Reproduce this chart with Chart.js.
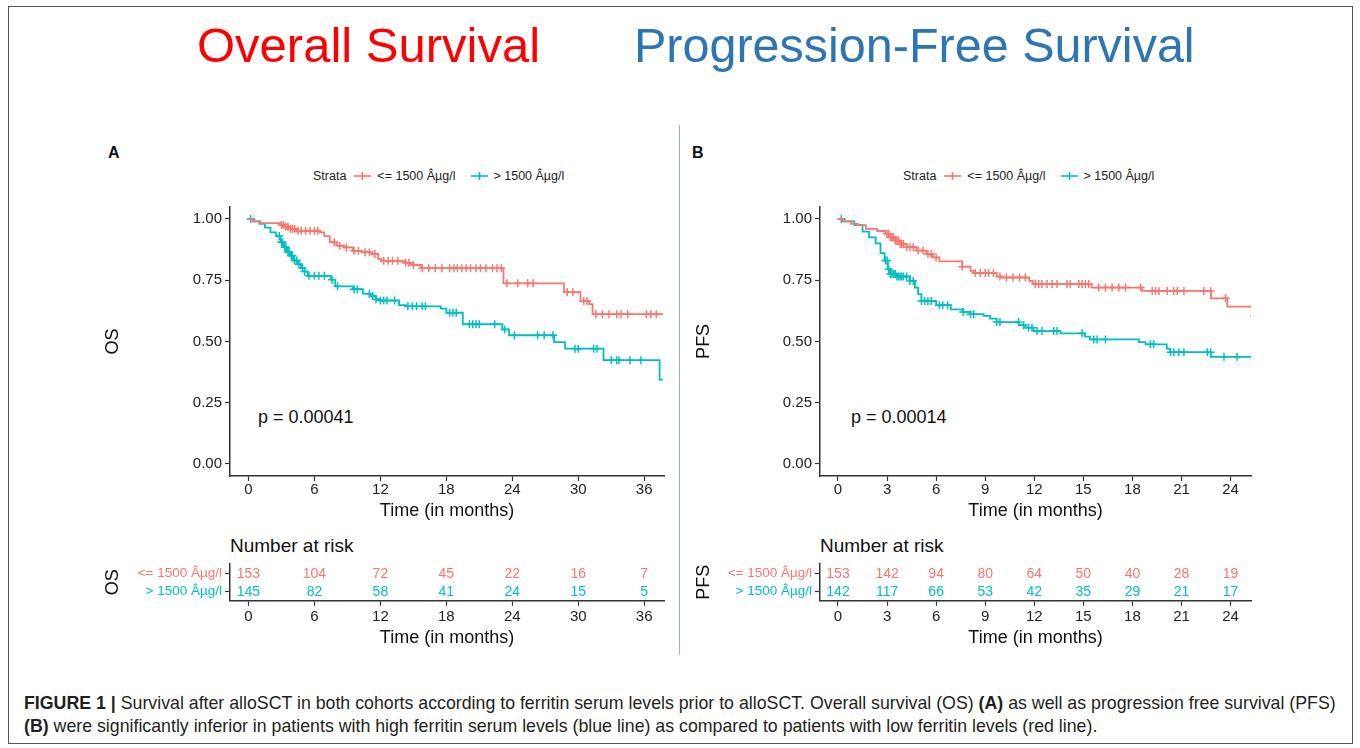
<!DOCTYPE html>
<html><head><meta charset="utf-8">
<script src="https://cdn.jsdelivr.net/npm/chart.js@4.4.1/dist/chart.umd.min.js"></script>
<style>
html,body{margin:0;padding:0;background:#fff;}
body{width:1360px;height:748px;position:relative;overflow:hidden;font-family:'Liberation Sans',Arial,sans-serif;color:#111;}
.t{position:absolute;white-space:nowrap;line-height:1;}
canvas{position:absolute;}
.leg{position:absolute;display:flex;align-items:center;height:14px;font-size:12.5px;color:#222;white-space:nowrap;}
.leg svg{display:block;}
</style></head><body>
<div style="position:absolute;left:8px;top:6px;width:1343px;height:736px;border:1px solid #555;"></div>
<div style="position:absolute;left:679px;top:125px;width:1px;height:530px;background:#8fb4e3;"></div>

<div class="t" style="left:197px;top:20.5px;font-size:49px;color:#ff0000;">Overall Survival</div>
<div class="t" style="left:634px;top:20.9px;font-size:48.5px;color:#2e75b6;">Progression-Free Survival</div>

<div class="t" style="left:108px;top:145.2px;font-size:16px;font-weight:bold;">A</div>
<div class="t" style="left:692px;top:145.2px;font-size:16px;font-weight:bold;">B</div>

<div class="leg" id="legA" style="left:313px;top:169px;"></div>
<div class="leg" id="legB" style="left:903px;top:169px;"></div>

<div class="t" style="left:258px;top:407.8px;font-size:18px;">p = 0.00041</div>
<div class="t" style="left:851px;top:407.8px;font-size:18px;">p = 0.00014</div>

<div class="t" style="left:230px;top:535.9px;font-size:19px;">Number at risk</div>
<div class="t" style="left:820px;top:535.9px;font-size:19px;">Number at risk</div>

<canvas id="mainA" width="590" height="340" style="left:90px;top:190px;"></canvas>
<canvas id="riskA" width="590" height="120" style="left:90px;top:530px;"></canvas>
<canvas id="mainB" width="590" height="340" style="left:680px;top:190px;"></canvas>
<canvas id="riskB" width="590" height="120" style="left:680px;top:530px;"></canvas>

<div class="t" style="left:24px;top:694.5px;font-size:17.75px;color:#231f20;"><b>FIGURE 1 |</b> Survival after alloSCT in both cohorts according to ferritin serum levels prior to alloSCT. Overall survival (OS) <b>(A)</b> as well as progression free survival (PFS)</div>
<div class="t" style="left:24px;top:718px;font-size:17.75px;color:#231f20;"><b>(B)</b> were significantly inferior in patients with high ferritin serum levels (blue line) as compared to patients with low ferritin levels (red line).</div>

<script>
// ---------- data ----------
const strata = ['<= 1500 Âµg/l', '> 1500 Âµg/l'];
const survTicks = [0, 0.25, 0.5, 0.75, 1];
const osTicks = [0, 6, 12, 18, 24, 30, 36];
const pfsTicks = [0, 3, 6, 9, 12, 15, 18, 21, 24];

const osLowTime = [0, 0.4, 1.1, 2.9, 3.3, 3.7, 4.3, 6.5, 6.9, 7.4, 8.0, 8.7, 9.5, 10.3, 11.2, 11.8, 12.1, 14.2, 14.8, 15.7, 23.2, 28.7, 30.2, 31.0, 31.3, 37.7];
const osLowSurv = [1.0, 0.99, 0.983, 0.975, 0.968, 0.96, 0.952, 0.945, 0.93, 0.905, 0.891, 0.884, 0.87, 0.864, 0.857, 0.837, 0.829, 0.821, 0.812, 0.799, 0.737, 0.701, 0.665, 0.652, 0.611, 0.611];
const osLowCensor = [3.0, 3.2, 3.4, 3.6, 3.8, 4.0, 4.2, 4.5, 4.8, 5.2, 5.6, 6.0, 6.3, 7.8, 8.3, 8.9, 9.6, 10.0, 10.6, 11.0, 11.5, 12.3, 12.7, 13.1, 13.6, 14.3, 14.6, 15.0, 15.8, 16.4, 17.0, 17.6, 18.3, 18.7, 19.0, 19.4, 19.8, 20.2, 20.7, 21.1, 21.6, 22.2, 22.6, 23.0, 23.5, 24.5, 25.4, 25.9, 29.0, 29.5, 30.5, 30.8, 31.6, 32.2, 32.8, 33.5, 33.9, 34.5, 36.2, 36.6, 37.1];

const osHighTime = [0, 0.5, 1.0, 1.5, 2.0, 2.5, 2.9, 3.2, 3.5, 3.8, 4.1, 4.5, 4.8, 5.1, 5.4, 7.5, 7.9, 9.5, 10.4, 11.1, 11.6, 12.0, 13.7, 14.3, 17.5, 18.0, 19.5, 23.1, 23.7, 27.8, 28.8, 32.3, 37.4, 37.7];
const osHighSurv = [1.0, 0.99, 0.98, 0.965, 0.945, 0.93, 0.905, 0.885, 0.865, 0.85, 0.83, 0.815, 0.8, 0.785, 0.768, 0.752, 0.725, 0.713, 0.695, 0.685, 0.672, 0.667, 0.648, 0.643, 0.634, 0.617, 0.57, 0.549, 0.525, 0.497, 0.47, 0.423, 0.344, 0.344];
const osHighCensor = [0.2, 2.8, 3.0, 3.1, 3.3, 3.4, 3.6, 3.7, 3.9, 4.0, 4.2, 4.4, 4.6, 4.9, 5.1, 5.5, 6.0, 6.4, 6.9, 7.6, 8.1, 9.6, 9.9, 11.0, 11.3, 11.6, 12.0, 12.3, 12.6, 13.3, 14.5, 14.9, 15.3, 15.8, 16.1, 18.3, 18.6, 18.9, 20.1, 20.4, 20.7, 21.0, 22.4, 23.3, 24.2, 26.3, 26.9, 27.7, 29.7, 30.0, 31.4, 31.7, 33.0, 33.5, 33.7, 34.7, 35.7];

const pfsLowTime = [0, 0.3, 0.8, 1.2, 1.7, 2.4, 2.9, 3.2, 3.5, 3.8, 4.2, 4.8, 5.4, 5.8, 6.2, 7.6, 8.1, 8.3, 9.7, 10.0, 11.7, 11.9, 15.5, 18.6, 22.8, 23.8, 25.45];
const pfsLowSurv = [1.0, 0.99, 0.98, 0.975, 0.96, 0.951, 0.94, 0.925, 0.912, 0.898, 0.885, 0.871, 0.857, 0.843, 0.827, 0.805, 0.788, 0.779, 0.765, 0.761, 0.747, 0.734, 0.72, 0.706, 0.676, 0.642, 0.604];
const pfsLowCensor = [3.0, 3.1, 3.2, 3.3, 3.4, 3.5, 3.6, 3.7, 3.8, 3.9, 4.0, 4.2, 4.4, 4.6, 4.9, 5.2, 5.5, 5.7, 6.0, 7.6, 8.4, 8.7, 9.0, 9.2, 9.5, 9.9, 10.3, 10.7, 11.1, 11.45, 12.06, 12.27, 12.47, 12.78, 13.09, 13.39, 14.0, 14.2, 14.72, 14.92, 15.13, 15.33, 15.94, 16.35, 16.76, 17.17, 17.58, 18.5, 19.21, 19.41, 19.62, 20.13, 20.53, 20.74, 21.15, 22.37, 22.78, 23.7, 25.45];

const pfsHighTime = [0, 0.4, 1.0, 1.5, 1.9, 2.3, 2.6, 2.85, 3.05, 3.2, 3.6, 4.4, 4.7, 4.9, 5.1, 6.0, 6.9, 7.6, 8.1, 8.9, 9.3, 9.7, 11.05, 11.45, 11.96, 13.6, 15.1, 15.4, 18.4, 18.8, 20.1, 20.3, 22.8, 25.3];
const pfsHighSurv = [1.0, 0.99, 0.975, 0.948, 0.925, 0.9, 0.86, 0.83, 0.795, 0.775, 0.765, 0.747, 0.72, 0.693, 0.665, 0.648, 0.631, 0.62, 0.611, 0.604, 0.593, 0.579, 0.566, 0.556, 0.542, 0.533, 0.519, 0.508, 0.497, 0.488, 0.47, 0.456, 0.437, 0.437];
const pfsHighCensor = [0.2, 2.9, 3.0, 3.1, 3.2, 3.3, 3.4, 3.5, 3.6, 3.7, 3.8, 3.9, 4.0, 4.2, 4.4, 4.6, 5.1, 5.3, 5.5, 5.7, 6.2, 6.4, 6.7, 7.65, 8.1, 8.3, 9.7, 9.9, 11.04, 11.35, 11.65, 11.86, 12.17, 12.47, 13.19, 13.39, 14.92, 15.64, 15.84, 16.35, 19.1, 19.3, 20.33, 20.53, 20.84, 21.15, 22.58, 22.78, 23.6, 24.4];

const osRiskLow = [153, 104, 72, 45, 22, 16, 7];
const osRiskHigh = [145, 82, 58, 41, 24, 15, 5];
const pfsRiskLow = [153, 142, 94, 80, 64, 50, 40, 28, 19];
const pfsRiskHigh = [142, 117, 66, 53, 42, 35, 29, 21, 17];

// ---------- style ----------
const RED = '#F8766D', CYAN = '#00BFC4';
Chart.defaults.font.family = "'Liberation Sans', Arial, sans-serif";
Chart.defaults.color = '#222';

function survAt(times, surv, t) {
  let s = surv[0];
  for (let i = 0; i < times.length; i++) if (times[i] <= t) s = surv[i];
  return s;
}

function axisX(o, height, tickPad, titlePadBottom) {
  return {
    type: 'linear', min: o.xmin, max: o.xmax,
    afterBuildTicks: s => { s.ticks = o.xticks.map(v => ({ value: v })); },
    afterFit: s => { s.height = height; },
    ticks: { font: { size: 15 }, color: '#222', padding: tickPad, maxRotation: 0, autoSkip: false, callback: v => String(v) },
    grid: { drawOnChartArea: false, drawTicks: true, tickLength: 5, tickColor: '#333', tickWidth: 1.2 },
    border: { display: true, color: '#333', width: 1.5 },
    title: { display: true, text: 'Time (in months)', font: { size: 18 }, color: '#111', padding: { top: 0, bottom: titlePadBottom } }
  };
}

function makeMain(id, o) {
  const ds = [];
  o.groups.forEach(g => {
    ds.push({ data: g.time.map((t, i) => ({ x: t, y: g.surv[i] })), showLine: true, stepped: true,
      borderColor: g.color, borderWidth: 1.8, pointRadius: 0, fill: false });
    ds.push({ data: g.censor.map(t => ({ x: t, y: survAt(g.time, g.surv, t) })), showLine: false,
      pointStyle: 'cross', pointRadius: 4, borderColor: g.color, backgroundColor: g.color, borderWidth: 1.5 });
  });
  new Chart(document.getElementById(id), {
    type: 'scatter',
    data: { datasets: ds },
    options: {
      responsive: false, animation: false, events: [],
      layout: { padding: { left: 0, right: o.padRight, top: 16.75, bottom: 0 } },
      plugins: { legend: { display: false }, tooltip: { enabled: false } },
      scales: {
        x: axisX(o, 54, 0, 8.2),
        y: {
          type: 'linear', min: -0.05, max: 1.05,
          afterBuildTicks: s => { s.ticks = survTicks.map(v => ({ value: v })); },
          afterFit: s => { s.width = 140; },
          ticks: { font: { size: 15 }, color: '#222', padding: 3, autoSkip: false, callback: v => Number(v).toFixed(2) },
          grid: { drawOnChartArea: false, drawTicks: true, tickLength: 5, tickColor: '#333', tickWidth: 1.2 },
          border: { display: true, color: '#333', width: 1.5 },
          title: { display: true, text: o.ytitle, font: { size: 18 }, color: '#111', padding: { top: o.ytitlePad, bottom: 0 } }
        }
      }
    }
  });
}

const riskText = {
  id: 'riskText',
  afterDatasetsDraw(chart) {
    const ctx = chart.ctx;
    ctx.save();
    ctx.font = "14px 'Liberation Sans', Arial, sans-serif";
    ctx.textAlign = 'center';
    ctx.textBaseline = 'middle';
    chart.data.datasets.forEach((ds, i) => {
      const meta = chart.getDatasetMeta(i);
      ctx.fillStyle = ds.textColor;
      meta.data.forEach((pt, j) => { ctx.fillText(String(ds.counts[j]), pt.x, pt.y + 1); });
    });
    ctx.restore();
  }
};

function makeRisk(id, o) {
  const ds = o.groups.map(g => ({
    data: o.xticks.map(t => ({ x: t, y: g.label })), counts: g.counts, textColor: g.color,
    pointRadius: 0, showLine: false
  }));
  new Chart(document.getElementById(id), {
    type: 'scatter',
    data: { datasets: ds },
    options: {
      responsive: false, animation: false, events: [],
      layout: { padding: { left: 0, right: o.padRight, top: 34, bottom: 0 } },
      plugins: { legend: { display: false }, tooltip: { enabled: false } },
      scales: {
        x: axisX(o, 49.3, 2.6, 0.9),
        y: {
          type: 'category', labels: strata, offset: true,
          afterFit: s => { s.width = 140; },
          ticks: { font: { size: 13.5 }, autoSkip: false, color: c => o.groups[c.index] ? o.groups[c.index].color : '#222', padding: 3 },
          grid: { drawOnChartArea: false, drawTicks: true, tickLength: 5, tickColor: '#333', tickWidth: 1.2 },
          border: { display: true, color: '#333', width: 1.5 },
          title: { display: true, text: o.ytitle, font: { size: 18 }, color: '#111', padding: { top: o.ytitlePad, bottom: 0 } }
        }
      }
    },
    plugins: [riskText]
  });
}

const optA = { xmin: -1.68, xmax: 37.8, xticks: osTicks, padRight: 16, ytitle: 'OS', ytitlePad: 12.7 };
const optB = { xmin: -1.1, xmax: 25.25, xticks: pfsTicks, padRight: 19, ytitle: 'PFS', ytitlePad: 13.7 };

makeMain('mainA', Object.assign({}, optA, { groups: [
  { time: osLowTime, surv: osLowSurv, censor: osLowCensor, color: RED },
  { time: osHighTime, surv: osHighSurv, censor: osHighCensor, color: CYAN } ] }));
makeMain('mainB', Object.assign({}, optB, { groups: [
  { time: pfsLowTime, surv: pfsLowSurv, censor: pfsLowCensor, color: RED },
  { time: pfsHighTime, surv: pfsHighSurv, censor: pfsHighCensor, color: CYAN } ] }));
makeRisk('riskA', Object.assign({}, optA, { groups: [
  { label: strata[0], counts: osRiskLow, color: RED },
  { label: strata[1], counts: osRiskHigh, color: CYAN } ] }));
makeRisk('riskB', Object.assign({}, optB, { groups: [
  { label: strata[0], counts: pfsRiskLow, color: RED },
  { label: strata[1], counts: pfsRiskHigh, color: CYAN } ] }));

// legends (HTML)
function marker(color) {
  return '<svg width="17" height="10"><line x1="0" y1="5" x2="17" y2="5" stroke="' + color + '" stroke-width="1.6"/>' +
    '<line x1="8.5" y1="1" x2="8.5" y2="9" stroke="' + color + '" stroke-width="1.6"/></svg>';
}
['legA', 'legB'].forEach(id => {
  document.getElementById(id).innerHTML =
    '<span>Strata</span><span style="margin-left:8px">' + marker(RED) + '</span>' +
    '<span style="margin-left:6px">' + strata[0] + '</span>' +
    '<span style="margin-left:16px">' + marker(CYAN) + '</span>' +
    '<span style="margin-left:5px">' + strata[1] + '</span>';
});
</script>
</body></html>
